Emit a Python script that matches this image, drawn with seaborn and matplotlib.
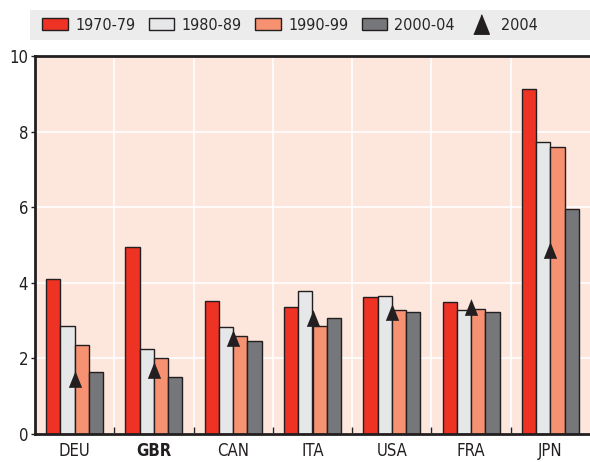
import matplotlib.pyplot as plt
import pandas as pd
import seaborn as sns
from matplotlib.lines import Line2D
from matplotlib.patches import Patch
from matplotlib.ticker import FixedLocator

countries = ["DEU", "GBR", "CAN", "ITA", "USA", "FRA", "JPN"]
periods = ["1970-79", "1980-89", "1990-99", "2000-04"]
v1970 = [4.09, 4.96, 3.53, 3.35, 3.62, 3.49, 9.13]
v1980 = [2.86, 2.25, 2.84, 3.79, 3.64, 3.27, 7.73]
v1990 = [2.36, 2.02, 2.59, 2.87, 3.28, 3.31, 7.59]
v2000 = [1.64, 1.50, 2.46, 3.06, 3.22, 3.22, 5.96]
v2004 = [1.45, 1.70, 2.54, 3.08, 3.24, 3.35, 4.86]
yticks = [0, 2, 4, 6, 8, 10]

palette = ["#ee3224", "#e6e7e8", "#f69272", "#76777a"]
edge = "#231f20"
tri = [(-0.4, -0.5), (0.4, -0.5), (0.0, 0.5)]

sns.set_theme(style="white")
plt.rcParams["font.family"] = ["DejaVu Sans"]
plt.rcParams["font.stretch"] = "condensed"

df = pd.DataFrame(
    {
        "country": countries * 4,
        "period": [p for p in periods for _ in countries],
        "value": v1970 + v1980 + v1990 + v2000,
    }
)

fig = plt.figure(figsize=(5.9, 4.62), dpi=100)
ax = fig.add_axes([35 / 590, 1 - 434 / 462, 555 / 590, 378 / 462])
ax.set_facecolor("#fde6dc")

sns.barplot(
    data=df,
    x="country",
    y="value",
    hue="period",
    palette=palette,
    width=0.72,
    edgecolor=edge,
    linewidth=1,
    saturation=1,
    legend=False,
    ax=ax,
)
sns.stripplot(
    x=countries,
    y=v2004,
    marker=tri,
    color=edge,
    jitter=False,
    size=12,
    linewidth=0,
    ax=ax,
    zorder=5,
)

ax.set_xlim(-0.5, 6.5)
ax.set_ylim(0, 10)
ax.set_yticks(yticks)
ax.set_xlabel("")
ax.set_ylabel("")

# white grid, group boundaries as minor ticks
ax.xaxis.set_minor_locator(FixedLocator([i + 0.5 for i in range(6)]))
ax.grid(axis="y", color="white", linewidth=1.2)
ax.grid(axis="x", which="minor", color="white", linewidth=1.2)
ax.set_axisbelow(True)

ax.tick_params(axis="x", which="major", length=0, labelsize=12, pad=6,
               colors="#231f20")
ax.tick_params(axis="x", which="minor", direction="in", length=5, width=1,
               color=edge, bottom=True)
ax.tick_params(axis="y", length=3, width=1, color=edge, left=True,
               labelsize=12, pad=2, colors="#231f20")
for lbl in ax.get_xticklabels():
    if lbl.get_text() == "GBR":
        lbl.set_fontweight("bold")

for side in ["left", "bottom", "top"]:
    ax.spines[side].set_color(edge)
    ax.spines[side].set_linewidth(2)
ax.spines["right"].set_visible(False)

handles = [Patch(facecolor=c, edgecolor=edge, linewidth=1) for c in palette]
handles.append(Line2D([], [], marker=tri, color=edge, linestyle="none",
                      markersize=14))
leg = fig.legend(
    handles,
    periods + ["2004"],
    loc="center left",
    bbox_to_anchor=(36 / 590, 1 - 25 / 462),
    ncol=5,
    frameon=False,
    fontsize=11.5,
    handlelength=1.6,
    handleheight=0.85,
    handletextpad=0.45,
    columnspacing=0.85,
    borderaxespad=0,
)
fig.patches.append(
    plt.Rectangle((30 / 590, 1 - 40 / 462), 560 / 590, 30 / 462,
                  transform=fig.transFigure, facecolor="#ececec",
                  edgecolor="none", zorder=-1)
)

fig.savefig("out.png", dpi=100)
